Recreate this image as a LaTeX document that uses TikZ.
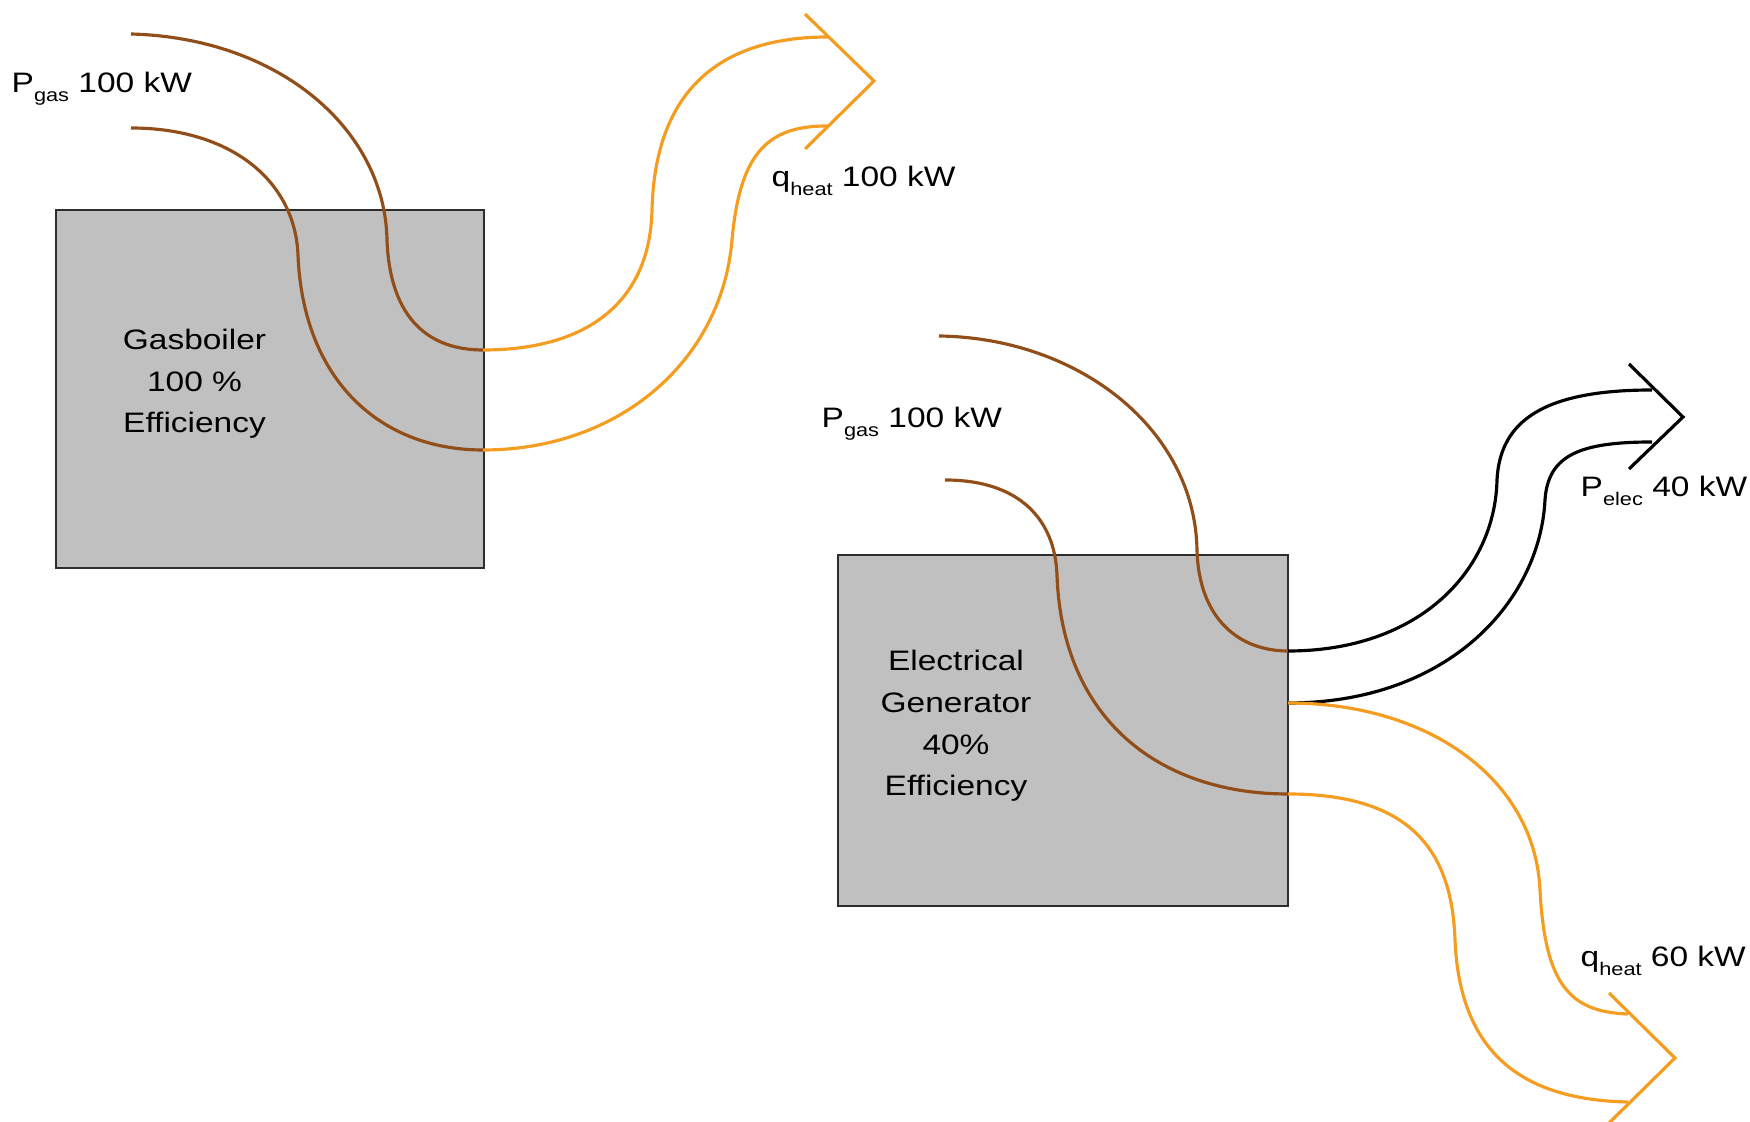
\documentclass[tikz,border=0pt]{standalone}
\usepackage{fontspec}
\setmainfont{Liberation Sans}[FakeStretch=1.19]
\newcommand{\lowsub}[1]{\raisebox{-2.4pt}{\fontsize{5.2pt}{6.2pt}\selectfont #1}}
\definecolor{gasbrown}{RGB}{146,78,24}
\definecolor{heatorange}{RGB}{244,157,32}
\definecolor{boxgray}{RGB}{192,192,192}
\definecolor{boxedge}{RGB}{45,45,45}
\tikzset{
  unitbox/.style={draw=boxedge, fill=boxgray, line width=0.6pt, inner sep=0pt, outer sep=0pt},
  boxtext/.style={align=center, inner sep=0pt, anchor=base, font=\fontsize{8pt}{11.9pt}\selectfont},
  flowlabel/.style={inner sep=0pt, anchor=base west, font=\fontsize{8pt}{9.6pt}\selectfont},
  gasflow/.style={draw=gasbrown, line width=0.9pt},
  heatflow/.style={draw=heatorange, line width=0.9pt},
  elecflow/.style={draw=black, line width=0.9pt},
  chevron/.style={line width=0.9pt, line join=miter, line cap=butt}
}
\begin{document}
\begin{tikzpicture}[x=0.01cm, y=-0.01cm]
\useasboundingbox (0,0) rectangle (1750,1122);

% ---------- Boxes ----------
\node[unitbox, minimum width=4.28cm, minimum height=3.58cm] (boiler) at (270,389) {};
\node[unitbox, minimum width=4.50cm, minimum height=3.51cm] (gen) at (1063,730.5) {};

% base anchor of a multi-line node sits on its last line
\node[boxtext] (boilertext) at (194.5,433) {Gasboiler\\100 \%\\Efficiency};
\node[boxtext] (gentext) at (956,796) {Electrical\\Generator\\40\%\\Efficiency};

% ---------- Labels ----------
\node[flowlabel] (pgas1) at (11,93) {P\lowsub{gas} 100 kW};
\node[flowlabel] (qheat1) at (771,187) {q\lowsub{heat} 100 kW};
\node[flowlabel] (pgas2) at (821,428) {P\lowsub{gas} 100 kW};
\node[flowlabel] (pelec) at (1580,497) {P\lowsub{elec} 40 kW};
\node[flowlabel] (qheat2) at (1580,967) {q\lowsub{heat} 60 kW};

% ---------- Coordinates: Gasboiler ----------
\coordinate (b-in-a) at (131,34);
\coordinate (b-in-b) at (131,128);
\coordinate (b-out-a) at (483,350);
\coordinate (b-out-b) at (483,450);
\coordinate (b-end-a) at (828,37);
\coordinate (b-end-b) at (827,126);
\coordinate (b-chev-top) at (805,14);
\coordinate (b-chev-tip) at (874,81);
\coordinate (b-chev-bot) at (805,149);

% ---------- Coordinates: Generator ----------
\coordinate (g-in-a) at (939,336);
\coordinate (g-in-b) at (945,480);
\coordinate (g-out-a) at (1288,651);
\coordinate (g-out-b) at (1288,703);
\coordinate (g-out-c) at (1288,794);
\coordinate (g-eend-a) at (1652,390);
\coordinate (g-eend-b) at (1652,442);
\coordinate (g-echev-top) at (1629,364);
\coordinate (g-echev-tip) at (1683,417);
\coordinate (g-echev-bot) at (1629,469);
\coordinate (g-hend-a) at (1628,1014);
\coordinate (g-hend-b) at (1628,1102);
\coordinate (g-hchev-top) at (1609,993);
\coordinate (g-hchev-tip) at (1675,1058);
\coordinate (g-hchev-bot) at (1606,1126);

% ---------- Gasboiler flows ----------
\draw[gasflow] (b-in-a) .. controls (280,38) and (385,130) .. (387,240)
  .. controls (390,320) and (430,350) .. (b-out-a);
\draw[gasflow] (b-in-b) .. controls (230,128) and (295,180) .. (298,255)
  .. controls (303,380) and (380,450) .. (b-out-b);
\draw[heatflow] (b-out-a) .. controls (590,350) and (650,300) .. (652,210)
  .. controls (655,90) and (720,37) .. (b-end-a);
\draw[heatflow] (b-out-b) .. controls (620,450) and (722,360) .. (732,240)
  .. controls (740,150) and (770,126) .. (b-end-b);
\draw[heatflow, chevron] (b-chev-top) -- (b-chev-tip) -- (b-chev-bot);

% ---------- Generator flows ----------
\draw[gasflow] (g-in-a) .. controls (1080,338) and (1195,430) .. (1197,550)
  .. controls (1199,620) and (1240,651) .. (g-out-a);
\draw[gasflow] (g-in-b) .. controls (1020,480) and (1055,520) .. (1057,575)
  .. controls (1062,720) and (1160,794) .. (g-out-c);
\draw[elecflow] (g-out-a) .. controls (1420,651) and (1495,570) .. (1497,480)
  .. controls (1500,420) and (1545,390) .. (g-eend-a);
\draw[elecflow] (g-out-b) .. controls (1450,703) and (1540,600) .. (1545,500)
  .. controls (1548,455) and (1580,442) .. (g-eend-b);
\draw[elecflow, chevron] (g-echev-top) -- (g-echev-tip) -- (g-echev-bot);
\draw[heatflow] (g-out-b) .. controls (1430,703) and (1535,780) .. (1540,890)
  .. controls (1545,985) and (1570,1012) .. (g-hend-a);
\draw[heatflow] (g-out-c) .. controls (1410,794) and (1452,850) .. (1455,940)
  .. controls (1460,1060) and (1530,1100) .. (g-hend-b);
\draw[heatflow, chevron] (g-hchev-top) -- (g-hchev-tip) -- (g-hchev-bot);
\end{tikzpicture}
\end{document}
